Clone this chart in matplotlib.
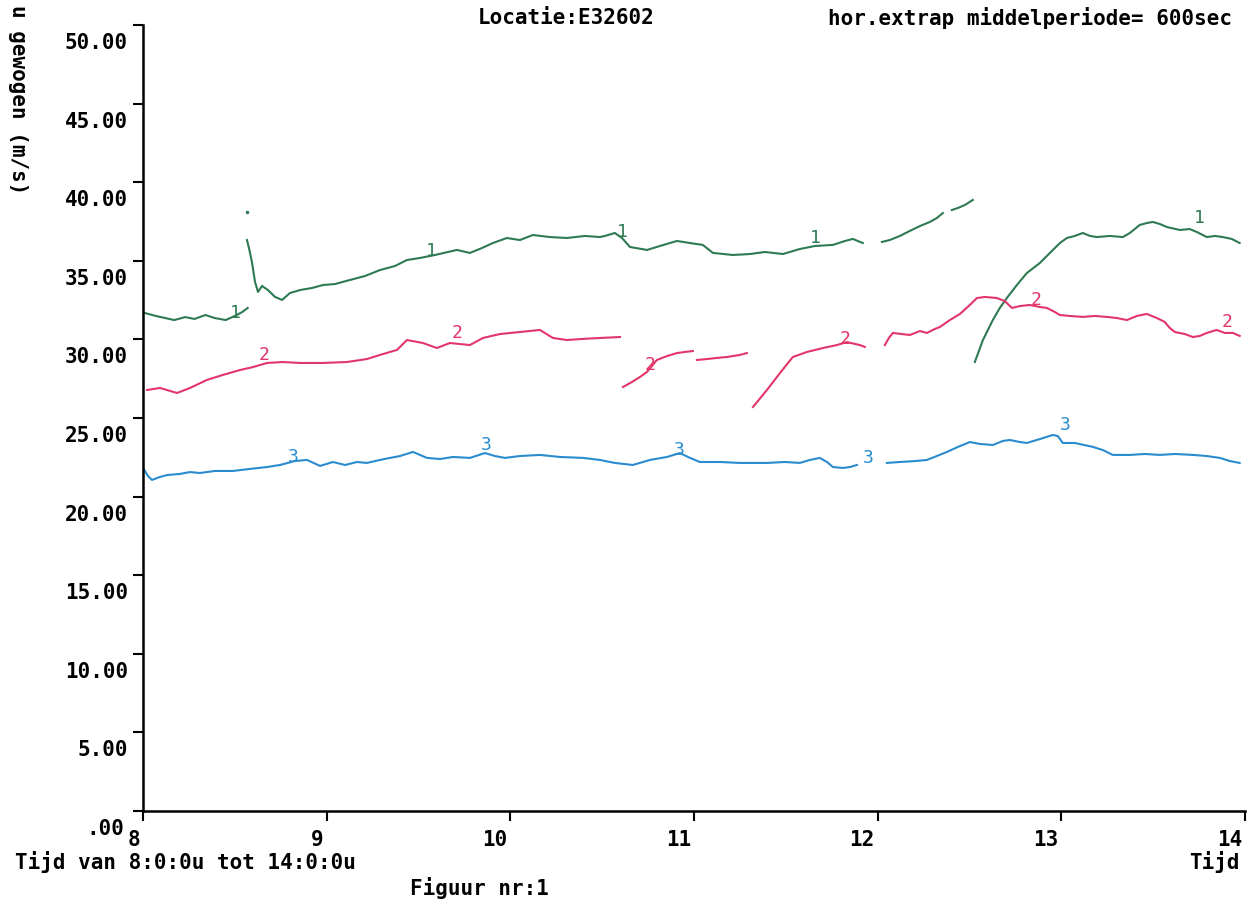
import numpy as np
import matplotlib
matplotlib.use("Agg")
import matplotlib.pyplot as plt
import matplotlib.transforms as mtransforms

nan = np.nan

# series 1 (green) - time in hours, u in m/s, gaps as nan
t_1 = [8.01, 8.07, 8.12, 8.17, 8.23, 8.28, 8.34, 8.39, 8.45, 8.50, 8.54, 8.57, nan,
       8.566, 8.577, 8.593, 8.610, 8.626, 8.648, 8.680, 8.719, 8.757, 8.800, 8.855, 8.920,
       8.980, 9.045, 9.127, 9.208, 9.290, 9.372, 9.437, 9.508, 9.590, 9.709, 9.780, 9.845,
       9.905, 9.981, 10.052, 10.123, 10.216, 10.308, 10.406, 10.488, 10.515, 10.569, 10.608,
       10.651, 10.744, 10.814, 10.907, 10.978, 11.048, 11.103, 11.212, 11.304, 11.386, 11.484,
       11.576, 11.658, 11.756, 11.822, 11.865, 11.919, nan,
       12.023, 12.066, 12.121, 12.175, 12.230, 12.284, 12.322, 12.355, nan,
       12.404, 12.437, 12.475, 12.518, nan,
       12.529, 12.573, 12.627, 12.665, 12.703, 12.758, 12.812, 12.883, 12.954, 12.992, 13.030,
       13.073, 13.117, 13.156, 13.193, 13.264, 13.335, 13.373, 13.427, 13.465, 13.498, 13.536,
       13.574, 13.645, 13.699, 13.738, 13.792, 13.836, 13.879, 13.928, 13.971]
u_1 = [31.68, 31.49, 31.36, 31.23, 31.42, 31.30, 31.55, 31.36, 31.23, 31.49, 31.74, 32.00, nan,
       36.32, 35.81, 34.92, 33.65, 33.02, 33.40, 33.14, 32.70, 32.51, 32.95, 33.14, 33.27,
       33.46, 33.52, 33.78, 34.03, 34.41, 34.67, 35.05, 35.18, 35.37, 35.69, 35.50, 35.81,
       36.13, 36.45, 36.32, 36.64, 36.51, 36.45, 36.58, 36.51, 36.58, 36.77, 36.45,
       35.88, 35.69, 35.94, 36.26, 36.13, 36.01, 35.50, 35.37, 35.43, 35.56, 35.43,
       35.75, 35.94, 36.01, 36.26, 36.39, 36.13, nan,
       36.20, 36.32, 36.58, 36.90, 37.21, 37.47, 37.72, 38.04, nan,
       38.23, 38.36, 38.55, 38.87, nan,
       28.56, 29.96, 31.23, 32.00, 32.63, 33.46, 34.22, 34.86, 35.69, 36.13, 36.45,
       36.58, 36.77, 36.58, 36.51, 36.58, 36.51, 36.77, 37.28, 37.40, 37.47, 37.34,
       37.15, 36.96, 37.02, 36.83, 36.51, 36.58, 36.51, 36.39, 36.13]

# series 2 (red)
t_2 = [8.022, 8.093, 8.185, 8.256, 8.348, 8.435, 8.528, 8.599, 8.675, 8.762, 8.855, 8.980,
       9.110, 9.219, 9.290, 9.383, 9.437, 9.524, 9.600, 9.671, 9.780, 9.851, 9.943, 10.052,
       10.161, 10.232, 10.308, 10.395, 10.488, 10.597, nan,
       10.613, 10.662, 10.706, 10.744, 10.798, 10.853, 10.907, 10.950, 10.994, nan,
       11.016, 11.070, 11.125, 11.179, 11.250, 11.288, nan,
       11.321, 11.397, 11.468, 11.538, 11.615, 11.702, 11.778, 11.832, 11.903, 11.930, nan,
       12.039, 12.061, 12.083, 12.132, 12.175, 12.230, 12.268, 12.311, 12.339, 12.393, 12.448,
       12.502, 12.540, 12.584, 12.649, 12.692, 12.731, 12.774, 12.829, 12.883, 12.921, 12.965,
       12.992, 13.046, 13.117, 13.182, 13.248, 13.302, 13.357, 13.411, 13.465, 13.520, 13.563,
       13.590, 13.618, 13.672, 13.716, 13.754, 13.792, 13.846, 13.890, 13.934, 13.971]
u_2 = [26.78, 26.91, 26.59, 26.91, 27.42, 27.74, 28.05, 28.24, 28.50, 28.56, 28.50, 28.50,
       28.56, 28.75, 29.01, 29.33, 29.96, 29.77, 29.45, 29.77, 29.64, 30.09, 30.34, 30.47,
       30.60, 30.09, 29.96, 30.03, 30.09, 30.15, nan,
       26.97, 27.29, 27.61, 27.93, 28.69, 28.94, 29.13, 29.20, 29.26, nan,
       28.69, 28.75, 28.82, 28.88, 29.01, 29.13, nan,
       25.70, 26.78, 27.86, 28.88, 29.20, 29.45, 29.64, 29.83, 29.64, 29.52, nan,
       29.64, 30.09, 30.41, 30.34, 30.28, 30.53, 30.41, 30.66, 30.79, 31.23, 31.62,
       32.19, 32.63, 32.70, 32.63, 32.44, 32.00, 32.12, 32.19, 32.06, 32.00, 31.74,
       31.55, 31.49, 31.43, 31.49, 31.43, 31.36, 31.23, 31.49, 31.62, 31.36, 31.11,
       30.73, 30.47, 30.34, 30.15, 30.22, 30.41, 30.60, 30.41, 30.41, 30.22]

# series 3 (blue)
t_3 = [8.000, 8.027, 8.049, 8.093, 8.131, 8.201, 8.256, 8.310, 8.392, 8.490, 8.582, 8.675,
       8.746, 8.827, 8.893, 8.964, 9.034, 9.100, 9.165, 9.219, 9.290, 9.345, 9.399, 9.470,
       9.546, 9.617, 9.688, 9.780, 9.862, 9.916, 9.971, 10.052, 10.161, 10.270, 10.395,
       10.488, 10.569, 10.667, 10.760, 10.853, 10.923, 10.978, 11.032, 11.141, 11.250,
       11.397, 11.495, 11.576, 11.631, 11.685, 11.724, 11.756, 11.811, 11.849, 11.887, nan,
       12.050, 12.121, 12.203, 12.268, 12.322, 12.377, 12.437, 12.502, 12.556, 12.627,
       12.682, 12.720, 12.774, 12.812, 12.883, 12.954, 12.981, 13.008, 13.073, 13.172,
       13.226, 13.280, 13.373, 13.455, 13.536, 13.618, 13.716, 13.792, 13.863, 13.918, 13.971]
u_3 = [21.82, 21.31, 21.06, 21.25, 21.37, 21.44, 21.56, 21.50, 21.63, 21.63, 21.76, 21.88,
       22.01, 22.26, 22.33, 21.95, 22.20, 22.01, 22.20, 22.14, 22.33, 22.46, 22.58, 22.84,
       22.46, 22.39, 22.52, 22.46, 22.77, 22.58, 22.46, 22.58, 22.65, 22.52, 22.46,
       22.33, 22.14, 22.01, 22.33, 22.52, 22.77, 22.46, 22.20, 22.20, 22.14,
       22.14, 22.20, 22.14, 22.33, 22.46, 22.20, 21.88, 21.82, 21.88, 22.01, nan,
       22.14, 22.20, 22.26, 22.33, 22.58, 22.84, 23.16, 23.47, 23.35, 23.28,
       23.54, 23.60, 23.47, 23.41, 23.66, 23.92, 23.85, 23.41, 23.41, 23.16,
       22.96, 22.65, 22.65, 22.71, 22.65, 22.71, 22.65, 22.58, 22.46, 22.26, 22.14]

stray_t = [8.566]
stray_u = [38.10]

# curve number labels drawn on the traces
lab_t_1 = [8.50, 9.57, 10.61, 11.66, 13.75]
lab_u_1 = [31.7, 35.6, 36.8, 36.45, 37.75]
lab_t_2 = [8.66, 9.71, 10.76, 11.82, 12.86, 13.90]
lab_u_2 = [29.0, 30.4, 28.4, 30.0, 32.5, 31.1]
lab_t_3 = [8.82, 9.87, 10.92, 11.95, 13.02]
lab_u_3 = [22.5, 23.3, 22.96, 22.46, 24.55]

yticks = [0, 5, 10, 15, 20, 25, 30, 35, 40, 45, 50]
ytick_labels = [".00", "5.00", "10.00", "15.00", "20.00", "25.00",
                "30.00", "35.00", "40.00", "45.00", "50.00"]
xticks = [8, 9, 10, 11, 12, 13, 14]
xtick_labels = ["8", "9", "10", "11", "12", "13", "14"]

GREEN = "#2e7a52"
RED = "#e2366a"
BLUE = "#2a8ccf"
MONO = "DejaVu Sans Mono"

fig = plt.figure(figsize=(12.6, 9.06), dpi=100)
ax = fig.add_axes([0.1135, 0.1049, 0.8746, 0.8675])

ax.plot(t_1, u_1, color=GREEN, lw=1.5)
ax.plot(t_2, u_2, color=RED, lw=1.5)
ax.plot(t_3, u_3, color=BLUE, lw=1.5)
ax.plot(stray_t, stray_u, ls="none", marker="o", ms=1.5, color=GREEN)

for ts, us, txt, col in [(lab_t_1, lab_u_1, "1", GREEN),
                         (lab_t_2, lab_u_2, "2", RED),
                         (lab_t_3, lab_u_3, "3", BLUE)]:
    for t, u in zip(ts, us):
        ax.text(t, u, txt, color=col, fontsize=13, family=MONO,
                ha="center", va="center")

ax.set_xlim(8, 14)
ax.set_ylim(0, 50)
for s in ["top", "right"]:
    ax.spines[s].set_visible(False)
for s in ["left", "bottom"]:
    ax.spines[s].set_linewidth(1.8)

ax.set_yticks(yticks)
ax.set_xticks(xticks)
ax.set_yticklabels([])
ax.set_xticklabels([])
ax.tick_params(direction="out", length=7, width=1.5, color="black")

px = 1 / 100
for v, lab in zip(yticks, ytick_labels):
    dx = -19 if v == 0 else -15
    tr = ax.get_yaxis_transform() + mtransforms.ScaledTranslation(dx * px, -18 * px, fig.dpi_scale_trans)
    ax.text(0, v, lab, transform=tr, ha="right", va="center",
            fontsize=15, fontweight="bold", family=MONO, clip_on=False)

xtrans = ax.get_xaxis_transform() + mtransforms.ScaledTranslation(-3 * px, -29 * px, fig.dpi_scale_trans)
for v, lab in zip(xticks, xtick_labels):
    ax.text(v, 0, lab, transform=xtrans, ha="right", va="center",
            fontsize=15, fontweight="bold", family=MONO, clip_on=False)

W, H = 1260, 906
kw = dict(fontsize=15, fontweight="bold", family=MONO)
fig.text(478 / W, 1 - 18 / H, "Locatie:E32602", ha="left", va="center", **kw)
fig.text(1232 / W, 1 - 18 / H, "hor.extrap middelperiode= 600sec", ha="right", va="center", **kw)
fig.text(18 / W, 1 - 5 / H, "u gewogen (m/s)", rotation=270, ha="center", va="top", **kw)
fig.text(15 / W, 1 - 862 / H, "Tijd van 8:0:0u tot 14:0:0u", ha="left", va="center", **kw)
fig.text(410 / W, 1 - 888 / H, "Figuur nr:1", ha="left", va="center", **kw)
fig.text(1240 / W, 1 - 862 / H, "Tijd", ha="right", va="center", **kw)

fig.savefig("out.png", dpi=100, facecolor="white")
